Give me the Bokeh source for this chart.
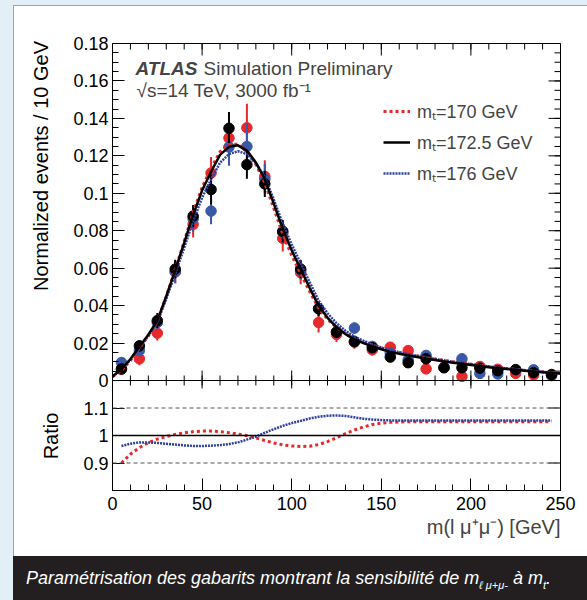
import numpy as np
from bokeh.plotting import figure
from bokeh.models import (Range1d, LinearAxis, FixedTicker, Span, Label, Legend,
                          LegendItem, Div, Spacer, Title)
from bokeh.layouts import column, row
from bokeh.embed import file_html
from bokeh.resources import INLINE

# ---------------- data ----------------
mass = [5, 15, 25, 35, 45, 55, 65, 75, 85, 95, 105, 115, 125, 135, 145,
        155, 165, 175, 185, 195, 205, 215, 225, 235, 245]

pts_black = [0.0062, 0.0185, 0.032, 0.0595, 0.0878, 0.102, 0.1347, 0.1153, 0.105, 0.0797,
             0.0595, 0.0383, 0.0258, 0.0208, 0.0175, 0.0125, 0.0095, 0.0116, 0.0068, 0.0068,
             0.0066, 0.0052, 0.0058, 0.0042, 0.0032]
err_black = [0.0015, 0.003, 0.004, 0.005, 0.006, 0.008, 0.0087, 0.0075, 0.007, 0.006,
             0.005, 0.004, 0.003, 0.003, 0.0025, 0.002, 0.002, 0.002, 0.0015, 0.0015,
             0.0015, 0.0012, 0.0012, 0.001, 0.001]

pts_red = [0.0060, 0.0116, 0.0253, 0.058, 0.0834, 0.1108, 0.1295, 0.135, 0.109, 0.0759,
           0.0576, 0.031, 0.0246, 0.0205, 0.0164, 0.0178, 0.016, 0.0062, 0.0070, 0.0022,
           0.0075, 0.0060, 0.0038, 0.0030, 0.0028]
err_red = [0.002, 0.0035, 0.004, 0.006, 0.007, 0.0086, 0.009, 0.0128, 0.0086, 0.007,
           0.0062, 0.0053, 0.004, 0.0035, 0.003, 0.0028, 0.0025, 0.002, 0.002, 0.0015,
           0.002, 0.0015, 0.0015, 0.0012, 0.0012]

pts_blue = [0.0096, 0.016, 0.031, 0.058, 0.0864, 0.0905, 0.1247, 0.125, 0.1076, 0.079,
            0.0588, 0.0385, 0.026, 0.028, 0.0182, 0.0148, 0.011, 0.0134, 0.0071, 0.0116,
            0.0038, 0.0035, 0.0058, 0.0057, 0.0026]
err_blue = [0.002, 0.003, 0.004, 0.006, 0.007, 0.007, 0.01, 0.0125, 0.008, 0.006,
            0.005, 0.004, 0.0035, 0.003, 0.0025, 0.0022, 0.002, 0.002, 0.0015, 0.0018,
            0.0012, 0.0012, 0.0015, 0.0015, 0.001]

curve_x = [0, 5, 10, 15, 20, 25, 30, 35, 40, 45, 50, 55, 60, 65, 70, 75, 80, 85, 90, 95,
           100, 105, 110, 115, 120, 125, 130, 135, 140, 145, 150, 155, 160, 165, 170, 175,
           180, 185, 190, 195, 200, 205, 210, 215, 220, 225, 230, 235, 240, 245, 250]
curve_black = [0.0022, 0.006, 0.0115, 0.018, 0.0245, 0.032, 0.045, 0.059, 0.0735, 0.0885,
               0.1015, 0.1115, 0.1205, 0.1248, 0.1256, 0.1228, 0.1165, 0.1075, 0.0945, 0.081,
               0.0695, 0.0595, 0.0495, 0.040, 0.0335, 0.0285, 0.0248, 0.022, 0.020, 0.0182,
               0.0167, 0.0153, 0.0143, 0.0134, 0.0125, 0.0116, 0.0109, 0.0102, 0.0095, 0.0089,
               0.0083, 0.0077, 0.0071, 0.0066, 0.0061, 0.0057, 0.0052, 0.0048, 0.0044, 0.0040,
               0.0037]
ratio_red = [0.880, 0.900, 0.932, 0.956, 0.974, 0.987, 0.996, 1.004, 1.010, 1.014,
             1.016, 1.016, 1.014, 1.010, 1.005, 0.999, 0.991, 0.982, 0.973, 0.966,
             0.962, 0.960, 0.961, 0.967, 0.978, 0.992, 1.007, 1.020, 1.031, 1.040,
             1.045, 1.048, 1.049, 1.050, 1.050, 1.050, 1.050, 1.050, 1.050, 1.050,
             1.050, 1.050, 1.050, 1.050, 1.050, 1.050, 1.050, 1.050, 1.050, 1.050,
             1.050]
ratio_blue = [0.958, 0.962, 0.970, 0.975, 0.975, 0.973, 0.970, 0.967, 0.964, 0.962,
              0.962, 0.963, 0.965, 0.969, 0.975, 0.985, 0.996, 1.010, 1.023, 1.035,
              1.045, 1.053, 1.062, 1.068, 1.072, 1.073, 1.071, 1.066, 1.061, 1.058,
              1.056, 1.055, 1.055, 1.055, 1.055, 1.055, 1.055, 1.055, 1.055, 1.055,
              1.055, 1.055, 1.055, 1.055, 1.055, 1.055, 1.055, 1.055, 1.055, 1.055,
              1.055]

x_major = [0, 50, 100, 150, 200, 250]
x_minor = [0, 10, 20, 30, 40, 50, 60, 70, 80, 90, 100, 110, 120, 130, 140, 150, 160,
           170, 180, 190, 200, 210, 220, 230, 240, 250]
y_major = [0, 0.02, 0.04, 0.06, 0.08, 0.1, 0.12, 0.14, 0.16, 0.18]
y_labels = ["0", "0.02", "0.04", "0.06", "0.08", "0.1", "0.12", "0.14", "0.16", "0.18"]
r_major = [0.9, 1.0, 1.1]
r_labels = ["0.9", "1", "1.1"]

legend_labels = ["m\u209c=170 GeV", "m\u209c=172.5 GeV", "m\u209c=176 GeV"]
y_title = "Normalized events / 10 GeV"
r_title = "Ratio"
x_title = "m(l \u03bc\u207a\u03bc\u207b) [GeV]"
caption_html = ("Paramétrisation des gabarits montrant la sensibilité de "
                "m<sub>\u2113 \u03bc+\u03bc-</sub> à m<sub>t</sub>.")

# ---------------- layout constants ----------------
RED = "#e8282b"
BLUE = "#2e3f9e"
FONT = "Liberation Sans"
PAGE_BG = "#e2eff7"
EDGE = "#9aa3a8"
LEFT_DIV_W = 52
FIG_W, FIG_H = 521, 550
B_LEFT, B_RIGHT, B_TOP = 46, 27, 37
FRAME_W, FRAME_H = 448, 447
UPPER_H, LOWER_H = 337, 110
Y_TOP = 0.18
y_bot = -Y_TOP * LOWER_H / UPPER_H
R_LO, R_HI = 0.8, 1.2
r_top = R_LO + (R_HI - R_LO) * FRAME_H / LOWER_H
px = (Y_TOP - y_bot) / FRAME_H      # main-data units per screen pixel (vertical)
pxx = 250 / FRAME_W                 # x-data units per screen pixel
FRAME_TOP_PX = 43


def py(sy):
    return Y_TOP - (sy - FRAME_TOP_PX) * px


def gx(sx):
    return (sx - 112) * pxx


def r_to_main(r):
    return y_bot + (r - R_LO) / (r_top - R_LO) * (Y_TOP - y_bot)


p = figure(width=FIG_W, height=FIG_H, x_range=Range1d(0, 250), y_range=Range1d(y_bot, Y_TOP),
           output_backend="svg", toolbar_location=None,
           min_border_left=B_LEFT, min_border_right=B_RIGHT, min_border_top=B_TOP,
           min_border_bottom=FIG_H - B_TOP - FRAME_H,
           x_axis_location=None, y_axis_location=None, margin=0)
p.extra_y_ranges = {"ratio": Range1d(R_LO, r_top)}
p.grid.visible = False
p.outline_line_color = "black"
p.outline_line_width = 1
p.background_fill_color = "white"
p.border_fill_color = "white"

y_ticks = list(y_major) + [r_to_main(r) for r in r_major]
y_minor = [float(v) for v in np.arange(0, 0.1801, 0.005)]
overrides = {t: l for t, l in zip(y_major, y_labels)}
for r, l in zip(r_major, r_labels):
    overrides[r_to_main(r)] = l


def style(ax):
    ax.major_tick_in = 12
    ax.major_tick_out = 0
    ax.minor_tick_in = 6
    ax.minor_tick_out = 0
    ax.axis_line_color = "black"
    ax.major_tick_line_color = "black"
    ax.minor_tick_line_color = "black"
    ax.major_label_text_font = FONT
    ax.major_label_text_font_size = "18px"
    ax.major_label_text_color = "black"


left = LinearAxis(ticker=FixedTicker(ticks=y_ticks, minor_ticks=y_minor))
left.major_label_overrides = overrides
style(left)
left.major_label_standoff = 4
p.add_layout(left, "left")

bottom = LinearAxis(ticker=FixedTicker(ticks=x_major, minor_ticks=x_minor))
style(bottom)
bottom.major_label_standoff = 6
p.add_layout(bottom, "below")

p.add_layout(Title(text=x_title, align="right", text_font=FONT, text_font_size="20px",
                   text_font_style="normal", standoff=2), "below")

# mirrored tick marks on top and right (ROOT style), from the tick lists
p.segment(x0=x_major, y0=[Y_TOP] * 6, x1=x_major, y1=[Y_TOP - 12 * px] * 6, line_color="black")
p.segment(x0=x_minor, y0=[Y_TOP] * len(x_minor), x1=x_minor,
          y1=[Y_TOP - 6 * px] * len(x_minor), line_color="black")
p.segment(x0=[250] * len(y_ticks), y0=y_ticks, x1=[250 - 12 * pxx] * len(y_ticks), y1=y_ticks,
          line_color="black")
p.segment(x0=[250] * len(y_minor), y0=y_minor, x1=[250 - 6 * pxx] * len(y_minor), y1=y_minor,
          line_color="black")

# separator between the panels with ticks both ways
p.add_layout(Span(location=0, dimension="width", line_color="black", line_width=1))
p.segment(x0=x_major, y0=[-8 * px] * len(x_major), x1=x_major, y1=[10 * px] * len(x_major),
          line_color="black", line_width=1)
p.segment(x0=x_minor, y0=[-5 * px] * len(x_minor), x1=x_minor, y1=[5 * px] * len(x_minor),
          line_color="black", line_width=1)

# ratio panel reference lines
for r in (1.1, 0.9):
    p.add_layout(Span(location=r, dimension="width", y_range_name="ratio",
                      line_color="#555555", line_dash="4 3", line_width=1))
p.add_layout(Span(location=1.0, dimension="width", y_range_name="ratio",
                  line_color="black", line_width=1.5))

# points with error bars
for ys, es, col in [(pts_red, err_red, RED), (pts_blue, err_blue, "#3a58a8"),
                    (pts_black, err_black, "black")]:
    ya, ea = np.array(ys), np.array(es)
    p.segment(x0=mass, y0=ya - ea, x1=mass, y1=ya + ea, line_color=col, line_width=2)
    p.scatter(mass, ys, size=10.5, color=col)

# template curves
cb = np.array(curve_black)
r_red = p.line(curve_x, cb * np.array(ratio_red), line_color=RED, line_width=3, line_dash="3 3")
r_blue = p.line(curve_x, cb * np.array(ratio_blue), line_color=BLUE, line_width=2.5, line_dash="2 1")
r_black = p.line(curve_x, curve_black, line_color="black", line_width=2.5)

# ratio curves
p.line(curve_x[1:-1], ratio_red[1:-1], y_range_name="ratio", line_color=RED, line_width=3,
       line_dash="3 3")
p.line(curve_x[1:-1], ratio_blue[1:-1], y_range_name="ratio", line_color=BLUE, line_width=2.5,
       line_dash="2 1")

legend = Legend(items=[LegendItem(label=legend_labels[0], renderers=[r_red]),
                       LegendItem(label=legend_labels[1], renderers=[r_black]),
                       LegendItem(label=legend_labels[2], renderers=[r_blue])],
                location=(271, 305), glyph_width=27, glyph_height=20, label_height=20,
                label_standoff=7, spacing=7, padding=0, margin=0,
                border_line_alpha=0, background_fill_alpha=0,
                label_text_font=FONT, label_text_font_size="18px")
p.add_layout(legend)

p.add_layout(Label(x=gx(135), y=py(67.5), text="ATLAS", text_font=FONT, text_font_size="19px",
                   text_font_style="bold italic", text_baseline="middle"))
p.add_layout(Label(x=gx(203), y=py(67.5), text="Simulation Preliminary", text_font=FONT,
                   text_font_size="19px", text_baseline="middle"))
p.add_layout(Label(x=gx(136), y=py(90), text="\u221as=14 TeV, 3000 fb\u207b\u00b9", text_font=FONT,
                   text_font_size="19px", text_baseline="middle"))

# vertical axis titles in a narrow HTML column left of the figure
rot = "position:absolute;transform:translate(-50%,-50%) rotate(-90deg);white-space:nowrap;"
left_div = Div(text=(
    f'<div style="position:relative;width:{LEFT_DIV_W}px;height:{FIG_H}px;'
    f'font-family:\'Liberation Sans\',Arial,sans-serif;font-size:20px;color:black;">'
    f'<div style="{rot}left:27px;top:160px;">{y_title}</div>'
    f'<div style="{rot}left:37px;top:430px;">{r_title}</div></div>'),
    width=LEFT_DIV_W, height=FIG_H, margin=0,
    styles={"background-color": "white", "overflow": "hidden"})

caption = Div(text=(
    '<div style="padding:11px 0 0 13px;font-family:\'Liberation Sans\',Arial,sans-serif;'
    'font-style:italic;font-size:18px;line-height:22px;color:white;white-space:nowrap;">'
    + caption_html.replace("<sub>", '<sub style="font-size:11px;line-height:0">') + '</div>'),
    width=1 + LEFT_DIV_W + FIG_W, height=44, margin=0,
    styles={"background-color": "#231f20", "overflow": "hidden"})

panel = row(left_div, p, spacing=0, styles={"background-color": "white"})

layout = column(
    Spacer(width=587, height=5, margin=0),
    row(Spacer(width=13, height=1, margin=0),
        Spacer(width=574, height=1, margin=0, styles={"background-color": EDGE}), spacing=0),
    row(Spacer(width=13, height=FIG_H, margin=0),
        Spacer(width=1, height=FIG_H, margin=0, styles={"background-color": EDGE}),
        panel, spacing=0),
    row(Spacer(width=13, height=44, margin=0), caption, spacing=0),
    spacing=0)

html = file_html(layout, INLINE)
html = html.replace("</head>", f"<style>html, body {{ background-color: {PAGE_BG}; }}</style></head>", 1)
open("out.html", "w").write(html)
